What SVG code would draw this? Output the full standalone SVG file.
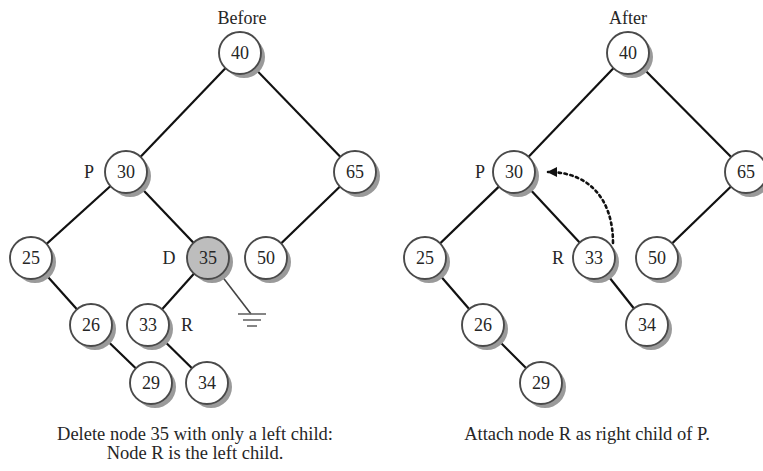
<svg xmlns="http://www.w3.org/2000/svg" width="763" height="471" viewBox="0 0 763 471">
<style>
.t{font-family:"Liberation Serif","Times New Roman",serif;fill:#262626}
.n{font-size:18px;text-anchor:middle;dominant-baseline:central}
.lb{font-size:18px;text-anchor:middle;dominant-baseline:central}
.cap{font-size:18.5px;text-anchor:middle}
.e{stroke:#111;stroke-width:2.2;fill:none}
.sh{fill:#9a9a9a}
.c{fill:#fff;stroke:#4a4a4a;stroke-width:1.9}
.g{fill:#bdbdbd;stroke:#4a4a4a;stroke-width:1.9}
</style>
<defs>
<marker id="ah" viewBox="0 0 10 10" refX="9" refY="5" markerWidth="10" markerHeight="10" markerUnits="userSpaceOnUse" orient="auto">
<path d="M0,0 L10,5 L0,10 z" fill="#111"/>
</marker>
</defs>
<rect width="763" height="471" fill="#fff"/>
<text class="t cap" x="242" y="24" style="font-size:18px">Before</text>
<text class="t cap" x="628" y="24" style="font-size:18px">After</text>
<g id="connectors">
<line class="e" x1="240" y1="53" x2="126" y2="172"/>
<line class="e" x1="240" y1="53" x2="355" y2="172"/>
<line class="e" x1="126" y1="172" x2="31" y2="258"/>
<line class="e" x1="126" y1="172" x2="208" y2="258"/>
<line class="e" x1="355" y1="172" x2="266" y2="258"/>
<line class="e" x1="31" y1="258" x2="91" y2="325"/>
<line class="e" x1="91" y1="325" x2="151" y2="383"/>
<line class="e" x1="208" y1="258" x2="148" y2="325"/>
<line class="e" x1="148" y1="325" x2="207" y2="383"/>
<line x1="208" y1="258" x2="251" y2="314" stroke="#444" stroke-width="1.6"/>
<line x1="238" y1="314" x2="266" y2="314" stroke="#666" stroke-width="1.6"/>
<line x1="243" y1="320" x2="261" y2="320" stroke="#666" stroke-width="1.6"/>
<line x1="247" y1="326" x2="257" y2="326" stroke="#666" stroke-width="1.6"/>
<line class="e" x1="628" y1="53" x2="514" y2="172"/>
<line class="e" x1="628" y1="53" x2="746" y2="172"/>
<line class="e" x1="514" y1="172" x2="425" y2="258"/>
<line class="e" x1="514" y1="172" x2="594" y2="258"/>
<line class="e" x1="746" y1="172" x2="657" y2="258"/>
<line class="e" x1="425" y1="258" x2="483" y2="325"/>
<line class="e" x1="483" y1="325" x2="541" y2="383"/>
<line class="e" x1="594" y1="258" x2="647" y2="325"/>
<path d="M613,243 C613,200 590,172 548,172" fill="none" stroke="#111" stroke-width="2.6" stroke-dasharray="2.5 3.5" stroke-linecap="round" marker-end="url(#ah)"/>
</g>
<g id="L40"><circle class="sh" cx="244" cy="57" r="21"/><circle class="c" cx="240" cy="53" r="21"/><text class="t n" x="240" y="53">40</text></g>
<g id="L30"><circle class="sh" cx="130" cy="176" r="21"/><circle class="c" cx="126" cy="172" r="21"/><text class="t n" x="126" y="172">30</text><text class="t lb" x="89" y="172">P</text></g>
<g id="L65"><circle class="sh" cx="359" cy="176" r="21"/><circle class="c" cx="355" cy="172" r="21"/><text class="t n" x="355" y="172">65</text></g>
<g id="L25"><circle class="sh" cx="35" cy="262" r="21"/><circle class="c" cx="31" cy="258" r="21"/><text class="t n" x="31" y="258">25</text></g>
<g id="L35"><circle class="sh" cx="212" cy="262" r="21"/><circle class="g" cx="208" cy="258" r="21"/><text class="t n" x="208" y="258">35</text><text class="t lb" x="169" y="258">D</text></g>
<g id="L50"><circle class="sh" cx="270" cy="262" r="21"/><circle class="c" cx="266" cy="258" r="21"/><text class="t n" x="266" y="258">50</text></g>
<g id="L26"><circle class="sh" cx="95" cy="329" r="21"/><circle class="c" cx="91" cy="325" r="21"/><text class="t n" x="91" y="325">26</text></g>
<g id="L33"><circle class="sh" cx="152" cy="329" r="21"/><circle class="c" cx="148" cy="325" r="21"/><text class="t n" x="148" y="325">33</text><text class="t lb" x="187" y="325">R</text></g>
<g id="L29"><circle class="sh" cx="155" cy="387" r="21"/><circle class="c" cx="151" cy="383" r="21"/><text class="t n" x="151" y="383">29</text></g>
<g id="L34"><circle class="sh" cx="211" cy="387" r="21"/><circle class="c" cx="207" cy="383" r="21"/><text class="t n" x="207" y="383">34</text></g>
<g id="R40"><circle class="sh" cx="632" cy="57" r="21"/><circle class="c" cx="628" cy="53" r="21"/><text class="t n" x="628" y="53">40</text></g>
<g id="R30"><circle class="sh" cx="518" cy="176" r="21"/><circle class="c" cx="514" cy="172" r="21"/><text class="t n" x="514" y="172">30</text><text class="t lb" x="480" y="172">P</text></g>
<g id="R65"><circle class="sh" cx="750" cy="176" r="21"/><circle class="c" cx="746" cy="172" r="21"/><text class="t n" x="746" y="172">65</text></g>
<g id="R25"><circle class="sh" cx="429" cy="262" r="21"/><circle class="c" cx="425" cy="258" r="21"/><text class="t n" x="425" y="258">25</text></g>
<g id="R33"><circle class="sh" cx="598" cy="262" r="21"/><circle class="c" cx="594" cy="258" r="21"/><text class="t n" x="594" y="258">33</text><text class="t lb" x="558" y="258">R</text></g>
<g id="R50"><circle class="sh" cx="661" cy="262" r="21"/><circle class="c" cx="657" cy="258" r="21"/><text class="t n" x="657" y="258">50</text></g>
<g id="R26"><circle class="sh" cx="487" cy="329" r="21"/><circle class="c" cx="483" cy="325" r="21"/><text class="t n" x="483" y="325">26</text></g>
<g id="R34"><circle class="sh" cx="651" cy="329" r="21"/><circle class="c" cx="647" cy="325" r="21"/><text class="t n" x="647" y="325">34</text></g>
<g id="R29"><circle class="sh" cx="545" cy="387" r="21"/><circle class="c" cx="541" cy="383" r="21"/><text class="t n" x="541" y="383">29</text></g>
<text class="t cap" x="195" y="440">Delete node 35 with only a left child:</text>
<text class="t cap" x="195" y="459">Node R is the left child.</text>
<text class="t cap" x="587" y="440">Attach node R as right child of P.</text>
</svg>
